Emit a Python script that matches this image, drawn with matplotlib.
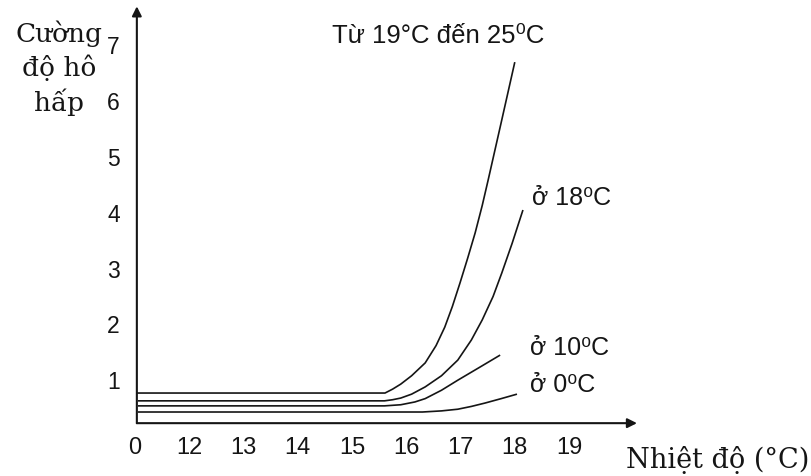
import matplotlib.pyplot as plt

# x positions are slots on the axis: slot 0 = "0", slot 1 = "12", ... slot 8 = "19"
x_labels = ['0', '12', '13', '14', '15', '16', '17', '18', '19']
y_ticks = [1, 2, 3, 4, 5, 6, 7]

x_top = [0.04, 4.61, 4.75, 4.9, 5.1, 5.35, 5.55, 5.71, 5.85, 5.99, 6.13, 6.27, 6.4, 6.51, 6.75, 7.0]
y_top = [0.77, 0.77, 0.84, 0.93, 1.08, 1.31, 1.62, 1.95, 2.32, 2.74, 3.18, 3.64, 4.13, 4.59, 5.62, 6.7]

x_18 = [0.06, 4.6, 4.75, 4.9, 5.1, 5.35, 5.65, 5.95, 6.2, 6.4, 6.6, 6.76, 6.95, 7.15]
y_18 = [0.63, 0.63, 0.65, 0.68, 0.75, 0.88, 1.08, 1.36, 1.72, 2.08, 2.5, 2.92, 3.45, 4.05]

x_10 = [0.06, 4.6, 4.9, 5.16, 5.35, 5.65, 5.95, 6.35, 6.73]
y_10 = [0.54, 0.54, 0.56, 0.61, 0.67, 0.82, 1.0, 1.23, 1.45]

x_0 = [0.06, 5.3, 5.65, 5.95, 6.2, 6.45, 6.75, 7.04]
y_0 = [0.43, 0.43, 0.45, 0.48, 0.53, 0.59, 0.67, 0.75]

axis_x = 0.04   # where the y axis sits
axis_y = 0.23   # where the x axis sits

sans = ['Liberation Sans', 'DejaVu Sans']
serif = ['DejaVu Serif']
ink = '#151515'

fig = plt.figure(figsize=(8.11, 4.76), dpi=100)
ax = fig.add_axes([128 / 811, 40 / 476, 522.55 / 811, 435.24 / 476])
ax.set_xlim(-0.123, 9.5)
ax.set_ylim(0, 7.8)
for s in ax.spines.values():
    s.set_visible(False)

for xs, ys in [(x_top, y_top), (x_18, y_18), (x_10, y_10), (x_0, y_0)]:
    ax.plot(xs, ys, color=ink, lw=1.2, solid_capstyle='butt', solid_joinstyle='round')

# axes with arrows
ax.annotate('', xy=(9.25, axis_y), xytext=(axis_x, axis_y),
            arrowprops=dict(arrowstyle='-|>', color=ink, lw=1.5,
                            mutation_scale=14, shrinkA=0, shrinkB=0))
ax.annotate('', xy=(axis_x, 7.7), xytext=(axis_x, axis_y),
            arrowprops=dict(arrowstyle='-|>', color=ink, lw=1.5,
                            mutation_scale=14, shrinkA=0, shrinkB=0))

ax.set_xticks(range(len(x_labels)))
ax.set_xticklabels(x_labels, family=sans, fontsize=17, color=ink)
ax.set_yticks(y_ticks)
ax.set_yticklabels([str(v) for v in y_ticks], family=sans, fontsize=16.5, color=ink)
ax.tick_params(length=0, pad=1)
ax.tick_params(axis='y', pad=6)

ax.text(3.63, 7.04, 'Từ 19°C đến 25⁰C', family=sans, fontsize=18.5, color=ink, va='baseline')
ax.text(7.32, 4.14, 'ở 18⁰C', family=sans, fontsize=18, color=ink, va='baseline')
ax.text(7.28, 1.45, 'ở 10⁰C', family=sans, fontsize=18, color=ink, va='baseline')
ax.text(7.28, 0.79, 'ở 0⁰C', family=sans, fontsize=18, color=ink, va='baseline')

fig.text(59 / 811, 1 - 68 / 476, 'Cường\nđộ hô\nhấp', family=serif, fontsize=19,
         color=ink, ha='center', va='center', multialignment='center', linespacing=1.35)
fig.text(809 / 811, 8 / 476, 'Nhiệt độ (°C)', family=serif, fontsize=19.5,
         color=ink, ha='right', va='baseline')

fig.savefig('out.png', dpi=100)
